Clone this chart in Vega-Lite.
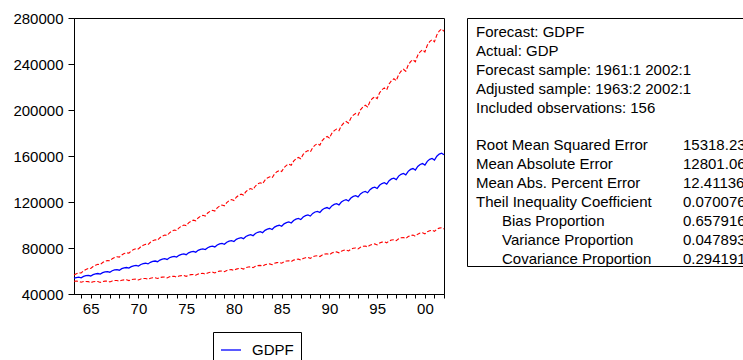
{
  "$schema": "https://vega.github.io/schema/vega-lite/v6.json",
  "background": "white",
  "padding": {"left": 12, "top": 10, "right": 0, "bottom": 0},
  "spacing": 23,
  "bounds": "flush",
  "datasets": {
    "fc": [
      {"t":1963.25,"f":53710,"lo":51090,"hi":56460},
      {"t":1963.5,"f":54310,"lo":51250,"hi":57550},
      {"t":1963.75,"f":54600,"lo":51060,"hi":58380},
      {"t":1964,"f":54110,"lo":50200,"hi":58320},
      {"t":1964.25,"f":55270,"lo":50820,"hi":60110},
      {"t":1964.5,"f":55890,"lo":50930,"hi":61340},
      {"t":1964.75,"f":56190,"lo":50790,"hi":62160},
      {"t":1965,"f":55680,"lo":49880,"hi":62150},
      {"t":1965.25,"f":56880,"lo":50650,"hi":63880},
      {"t":1965.5,"f":57520,"lo":50860,"hi":65050},
      {"t":1965.75,"f":57820,"lo":50820,"hi":65780},
      {"t":1966,"f":57300,"lo":50060,"hi":65580},
      {"t":1966.25,"f":58530,"lo":50880,"hi":67330},
      {"t":1966.5,"f":59190,"lo":51200,"hi":68430},
      {"t":1966.75,"f":59500,"lo":51210,"hi":69130},
      {"t":1967,"f":58970,"lo":50500,"hi":68860},
      {"t":1967.25,"f":60240,"lo":51380,"hi":70620},
      {"t":1967.5,"f":60910,"lo":51700,"hi":71770},
      {"t":1967.75,"f":61240,"lo":51770,"hi":72440},
      {"t":1968,"f":60690,"lo":51100,"hi":72080},
      {"t":1968.25,"f":61990,"lo":51960,"hi":73960},
      {"t":1968.5,"f":62690,"lo":52310,"hi":75130},
      {"t":1968.75,"f":63020,"lo":52350,"hi":75860},
      {"t":1969,"f":62460,"lo":51650,"hi":75530},
      {"t":1969.25,"f":63800,"lo":52520,"hi":77500},
      {"t":1969.5,"f":64520,"lo":52880,"hi":78730},
      {"t":1969.75,"f":64860,"lo":52920,"hi":79500},
      {"t":1970,"f":64280,"lo":52210,"hi":79140},
      {"t":1970.25,"f":65660,"lo":53120,"hi":81170},
      {"t":1970.5,"f":66390,"lo":53470,"hi":82440},
      {"t":1970.75,"f":66750,"lo":53510,"hi":83260},
      {"t":1971,"f":66160,"lo":52830,"hi":82850},
      {"t":1971.25,"f":67580,"lo":53750,"hi":84970},
      {"t":1971.5,"f":68330,"lo":54100,"hi":86300},
      {"t":1971.75,"f":68690,"lo":54140,"hi":87150},
      {"t":1972,"f":68080,"lo":53450,"hi":86720},
      {"t":1972.25,"f":69540,"lo":54350,"hi":88980},
      {"t":1972.5,"f":70320,"lo":54710,"hi":90380},
      {"t":1972.75,"f":70690,"lo":54750,"hi":91270},
      {"t":1973,"f":70060,"lo":54020,"hi":90860},
      {"t":1973.25,"f":71560,"lo":54960,"hi":93180},
      {"t":1973.5,"f":72360,"lo":55320,"hi":94650},
      {"t":1973.75,"f":72750,"lo":55370,"hi":95590},
      {"t":1974,"f":72100,"lo":54660,"hi":95110},
      {"t":1974.25,"f":73650,"lo":55610,"hi":97550},
      {"t":1974.5,"f":74480,"lo":56010,"hi":99040},
      {"t":1974.75,"f":74870,"lo":56080,"hi":99960},
      {"t":1975,"f":74200,"lo":55350,"hi":99460},
      {"t":1975.25,"f":75790,"lo":56370,"hi":101900},
      {"t":1975.5,"f":76640,"lo":56830,"hi":103350},
      {"t":1975.75,"f":77040,"lo":56960,"hi":104200},
      {"t":1976,"f":76360,"lo":56290,"hi":103590},
      {"t":1976.25,"f":78000,"lo":57320,"hi":106140},
      {"t":1976.5,"f":78870,"lo":57820,"hi":107590},
      {"t":1976.75,"f":79290,"lo":57980,"hi":108430},
      {"t":1977,"f":78590,"lo":57300,"hi":107800},
      {"t":1977.25,"f":80270,"lo":58350,"hi":110430},
      {"t":1977.5,"f":81170,"lo":58850,"hi":111950},
      {"t":1977.75,"f":81600,"lo":59020,"hi":112830},
      {"t":1978,"f":80880,"lo":58320,"hi":112170},
      {"t":1978.25,"f":82610,"lo":59390,"hi":114910},
      {"t":1978.5,"f":83540,"lo":59910,"hi":116490},
      {"t":1978.75,"f":83980,"lo":60070,"hi":117400},
      {"t":1979,"f":83230,"lo":59360,"hi":116700},
      {"t":1979.25,"f":85010,"lo":60480,"hi":119500},
      {"t":1979.5,"f":85970,"lo":61010,"hi":121150},
      {"t":1979.75,"f":86420,"lo":61170,"hi":122090},
      {"t":1980,"f":85650,"lo":60480,"hi":121300},
      {"t":1980.25,"f":87490,"lo":61650,"hi":124160},
      {"t":1980.5,"f":88470,"lo":62190,"hi":125860},
      {"t":1980.75,"f":88940,"lo":62390,"hi":126780},
      {"t":1981,"f":88150,"lo":61680,"hi":125970},
      {"t":1981.25,"f":90040,"lo":62880,"hi":128930},
      {"t":1981.5,"f":91050,"lo":63430,"hi":130700},
      {"t":1981.75,"f":91530,"lo":63630,"hi":131650},
      {"t":1982,"f":90720,"lo":62910,"hi":130810},
      {"t":1982.25,"f":92670,"lo":64140,"hi":133890},
      {"t":1982.5,"f":93700,"lo":64690,"hi":135720},
      {"t":1982.75,"f":94200,"lo":64900,"hi":136720},
      {"t":1983,"f":93360,"lo":64170,"hi":135840},
      {"t":1983.25,"f":95360,"lo":65410,"hi":139030},
      {"t":1983.5,"f":96430,"lo":65980,"hi":140940},
      {"t":1983.75,"f":96940,"lo":66190,"hi":141970},
      {"t":1984,"f":96070,"lo":65440,"hi":141050},
      {"t":1984.25,"f":98130,"lo":66710,"hi":144360},
      {"t":1984.5,"f":99230,"lo":67280,"hi":146340},
      {"t":1984.75,"f":99760,"lo":67510,"hi":147420},
      {"t":1985,"f":98870,"lo":66740,"hi":146470},
      {"t":1985.25,"f":100990,"lo":68030,"hi":149910},
      {"t":1985.5,"f":102120,"lo":68660,"hi":151890},
      {"t":1985.75,"f":102660,"lo":68880,"hi":153000},
      {"t":1986,"f":101750,"lo":68140,"hi":151950},
      {"t":1986.25,"f":103940,"lo":69460,"hi":155530},
      {"t":1986.5,"f":105100,"lo":70100,"hi":157580},
      {"t":1986.75,"f":105660,"lo":70330,"hi":158740},
      {"t":1987,"f":104720,"lo":69570,"hi":157640},
      {"t":1987.25,"f":106970,"lo":70920,"hi":161350},
      {"t":1987.5,"f":108160,"lo":71560,"hi":163470},
      {"t":1987.75,"f":108740,"lo":71800,"hi":164670},
      {"t":1988,"f":107760,"lo":71010,"hi":163520},
      {"t":1988.25,"f":110070,"lo":72390,"hi":167360},
      {"t":1988.5,"f":111310,"lo":73100,"hi":169500},
      {"t":1988.75,"f":111890,"lo":73330,"hi":170720},
      {"t":1989,"f":110900,"lo":72570,"hi":169470},
      {"t":1989.25,"f":113280,"lo":73980,"hi":173450},
      {"t":1989.5,"f":114550,"lo":74700,"hi":175660},
      {"t":1989.75,"f":115160,"lo":74950,"hi":176950},
      {"t":1990,"f":114130,"lo":74170,"hi":175630},
      {"t":1990.25,"f":116580,"lo":75610,"hi":179760},
      {"t":1990.5,"f":117890,"lo":76340,"hi":182050},
      {"t":1990.75,"f":118510,"lo":76590,"hi":183370},
      {"t":1991,"f":117450,"lo":75790,"hi":182010},
      {"t":1991.25,"f":119970,"lo":77270,"hi":186280},
      {"t":1991.5,"f":121320,"lo":78020,"hi":188660},
      {"t":1991.75,"f":121960,"lo":78270,"hi":190030},
      {"t":1992,"f":120870,"lo":77460,"hi":188620},
      {"t":1992.25,"f":123470,"lo":78960,"hi":193060},
      {"t":1992.5,"f":124850,"lo":79730,"hi":195510},
      {"t":1992.75,"f":125510,"lo":79990,"hi":196940},
      {"t":1993,"f":124400,"lo":79160,"hi":195490},
      {"t":1993.25,"f":127070,"lo":80700,"hi":200080},
      {"t":1993.5,"f":128490,"lo":81480,"hi":202620},
      {"t":1993.75,"f":129170,"lo":81750,"hi":204100},
      {"t":1994,"f":128020,"lo":80900,"hi":202590},
      {"t":1994.25,"f":130760,"lo":82460,"hi":207340},
      {"t":1994.5,"f":132230,"lo":83270,"hi":209990},
      {"t":1994.75,"f":132930,"lo":83540,"hi":211520},
      {"t":1995,"f":131740,"lo":82670,"hi":209940},
      {"t":1995.25,"f":134570,"lo":84280,"hi":214880},
      {"t":1995.5,"f":136070,"lo":85090,"hi":217600},
      {"t":1995.75,"f":136790,"lo":85370,"hi":219190},
      {"t":1996,"f":135580,"lo":84480,"hi":217580},
      {"t":1996.25,"f":138490,"lo":86120,"hi":222690},
      {"t":1996.5,"f":140040,"lo":86960,"hi":225520},
      {"t":1996.75,"f":140780,"lo":87240,"hi":227170},
      {"t":1997,"f":139530,"lo":86340,"hi":225490},
      {"t":1997.25,"f":142520,"lo":88010,"hi":230780},
      {"t":1997.5,"f":144110,"lo":88860,"hi":233710},
      {"t":1997.75,"f":144880,"lo":89160,"hi":235430},
      {"t":1998,"f":143590,"lo":88230,"hi":233680},
      {"t":1998.25,"f":146670,"lo":89990,"hi":239050},
      {"t":1998.5,"f":148310,"lo":90860,"hi":242090},
      {"t":1998.75,"f":149090,"lo":91200,"hi":243730},
      {"t":1999,"f":147780,"lo":90260,"hi":241950},
      {"t":1999.25,"f":150950,"lo":92060,"hi":247510},
      {"t":1999.5,"f":152630,"lo":92950,"hi":250640},
      {"t":1999.75,"f":153440,"lo":93300,"hi":252350},
      {"t":2000,"f":152070,"lo":92330,"hi":250470},
      {"t":2000.25,"f":155340,"lo":94170,"hi":256240},
      {"t":2000.5,"f":157080,"lo":95080,"hi":259500},
      {"t":2000.75,"f":157910,"lo":95440,"hi":261260},
      {"t":2001,"f":156500,"lo":94450,"hi":259320},
      {"t":2001.25,"f":159860,"lo":96330,"hi":265290},
      {"t":2001.5,"f":161650,"lo":97260,"hi":268660},
      {"t":2001.75,"f":162500,"lo":97630,"hi":270480},
      {"t":2002,"f":161060,"lo":96620,"hi":268480}
    ],
    "stats": [
      {"row":0,"col":0,"txt":"Forecast: GDPF"},
      {"row":1,"col":0,"txt":"Actual: GDP"},
      {"row":2,"col":0,"txt":"Forecast sample: 1961:1 2002:1"},
      {"row":3,"col":0,"txt":"Adjusted sample: 1963:2 2002:1"},
      {"row":4,"col":0,"txt":"Included observations: 156"},
      {"row":6,"col":0,"txt":"Root Mean Squared Error"},
      {"row":7,"col":0,"txt":"Mean Absolute Error"},
      {"row":8,"col":0,"txt":"Mean Abs. Percent Error"},
      {"row":9,"col":0,"txt":"Theil Inequality Coefficient"},
      {"row":10,"col":1,"txt":"Bias Proportion"},
      {"row":11,"col":1,"txt":"Variance Proportion"},
      {"row":12,"col":1,"txt":"Covariance Proportion"},
      {"row":6,"col":2,"txt":"15318.23"},
      {"row":7,"col":2,"txt":"12801.06"},
      {"row":8,"col":2,"txt":"12.41136"},
      {"row":9,"col":2,"txt":"0.070076"},
      {"row":10,"col":2,"txt":"0.657916"},
      {"row":11,"col":2,"txt":"0.047893"},
      {"row":12,"col":2,"txt":"0.294191"}
    ]
  },
  "hconcat": [
    {
      "width": 370,
      "height": 276,
      "data": {"name": "fc"},
      "encoding": {
        "x": {
          "field": "t",
          "type": "quantitative",
          "title": null,
          "scale": {"domain": [1963.25, 2002], "nice": false, "zero": false},
          "axis": {
            "values": [1964,1965,1966,1967,1968,1969,1970,1971,1972,1973,1974,1975,1976,1977,1978,1979,1980,1981,1982,1983,1984,1985,1986,1987,1988,1989,1990,1991,1992,1993,1994,1995,1996,1997,1998,1999,2000,2001,2002],
            "labelExpr": "datum.value % 5 === 0 ? substring(toString(datum.value), 2) : ''",
            "tickSize": 4,
            "labelPadding": 3
          }
        }
      },
      "layer": [
        {
          "mark": {"type": "line", "color": "#ff0000", "strokeDash": [4, 2], "strokeWidth": 1.1},
          "encoding": {
            "y": {
              "field": "hi",
              "type": "quantitative",
              "title": null,
              "scale": {"domain": [40000, 280000], "nice": false, "zero": false},
              "axis": {
                "values": [40000, 80000, 120000, 160000, 200000, 240000, 280000],
                "format": "d",
                "tickSize": 6,
                "labelPadding": 5
              }
            }
          }
        },
        {
          "mark": {"type": "line", "color": "#ff0000", "strokeDash": [4, 2], "strokeWidth": 1.1},
          "encoding": {
            "y": {"field": "lo", "type": "quantitative", "title": null}
          }
        },
        {
          "mark": {"type": "line", "strokeWidth": 1.3},
          "encoding": {
            "y": {"field": "f", "type": "quantitative", "title": null},
            "color": {
              "datum": "GDPF",
              "scale": {"range": ["#0000ff"]},
              "legend": {
                "orient": "none",
                "legendX": 139,
                "legendY": 314,
                "title": null,
                "strokeColor": "black",
                "fillColor": "white",
                "padding": 7,
                "symbolType": "stroke",
                "symbolSize": 400,
                "symbolStrokeWidth": 1.3,
                "labelFont": "Liberation Sans",
                "labelFontSize": 15,
                "labelColor": "black",
                "labelOffset": 10
              }
            }
          }
        }
      ]
    },
    {
      "width": 290,
      "height": 248,
      "data": {"name": "stats"},
      "mark": {"type": "text", "align": "left", "baseline": "middle", "font": "Liberation Sans", "fontSize": 15, "color": "black"},
      "encoding": {
        "x": {"field": "col", "type": "quantitative", "scale": {"domain": [0, 1, 2], "range": [9, 35, 216]}, "axis": null},
        "y": {"field": "row", "type": "quantitative", "scale": {"domain": [-0.74, 12.37], "reverse": true}, "axis": null},
        "text": {"field": "txt"}
      }
    }
  ],
  "config": {
    "font": "Liberation Sans",
    "view": {"stroke": "black", "strokeWidth": 1},
    "axis": {
      "grid": false,
      "labelFont": "Liberation Sans",
      "labelFontSize": 15,
      "labelColor": "black",
      "domainColor": "black",
      "tickColor": "black",
      "labelOverlap": false,
      "labelFlush": false
    }
  }
}
